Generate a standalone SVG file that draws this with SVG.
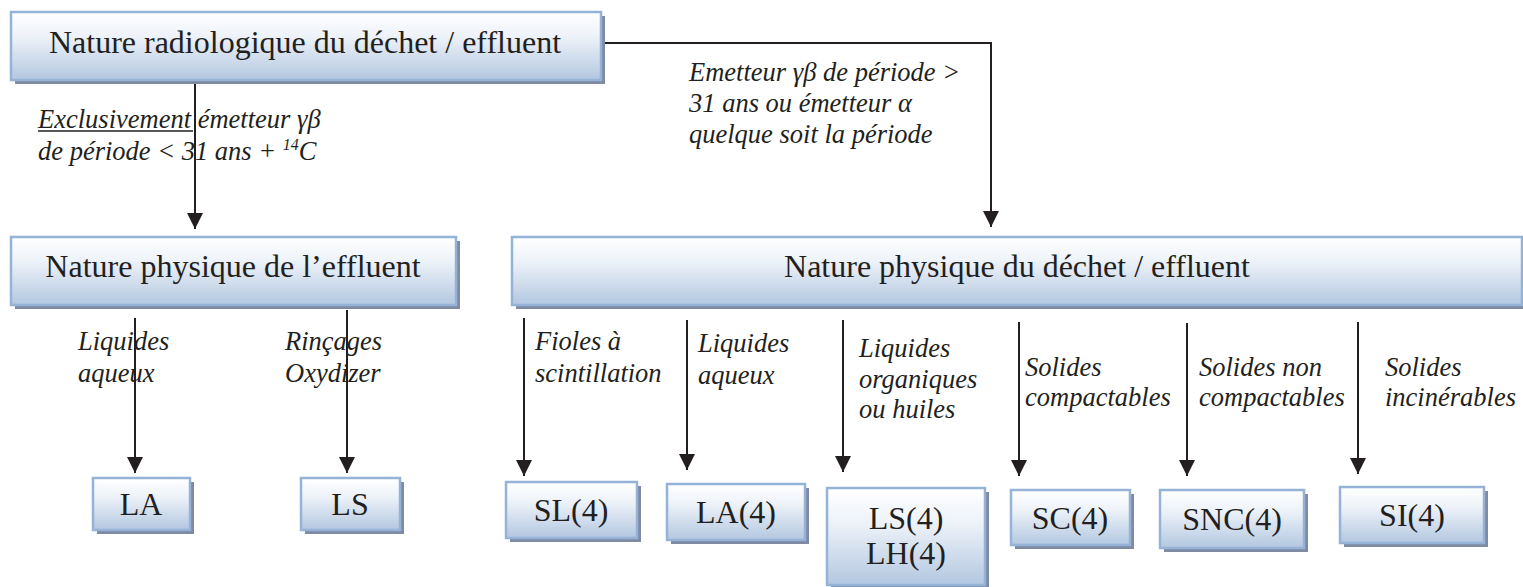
<svg xmlns="http://www.w3.org/2000/svg" width="1523" height="587" viewBox="0 0 1523 587">
<defs>
<linearGradient id="g" x1="0" y1="0" x2="0" y2="1">
<stop offset="0" stop-color="#ffffff"/>
<stop offset="0.35" stop-color="#eef3f9"/>
<stop offset="1" stop-color="#b3c7e0"/>
</linearGradient>
<marker id="ah" markerUnits="userSpaceOnUse" markerWidth="16" markerHeight="18" refX="16" refY="8" orient="auto">
<path d="M0,0 L16,8 L0,16 z" fill="#231f20"/>
</marker>
<style>
.sh{fill:#7f8aa3}
.bx{fill:url(#g);stroke:#95b3d7;stroke-width:2.5}
.t{font-family:"Liberation Serif","Times New Roman",serif;font-size:32px;fill:#231f20;text-anchor:middle}
.l{font-family:"Liberation Serif","Times New Roman",serif;font-size:26.5px;font-style:italic;fill:#231f20}
.c{fill:none;stroke:#231f20;stroke-width:2;marker-end:url(#ah)}
</style>
</defs>
<g id="connectors">
<path class="c" d="M195,80 V229"/>
<path class="c" d="M601,43 H991 V227"/>
<path class="c" d="M135,318 V473"/>
<path class="c" d="M347,310 V473"/>
<path class="c" d="M524,318 V476"/>
<path class="c" d="M687,320 V470"/>
<path class="c" d="M843,320 V472"/>
<path class="c" d="M1019,322 V476"/>
<path class="c" d="M1187,323 V476"/>
<path class="c" d="M1358,322 V474"/>
</g>
<g id="labels">
<text class="l" x="38" y="128">Exclusivement émetteur γβ</text>
<line x1="38" y1="131" x2="193" y2="131" stroke="#231f20" stroke-width="1.5"/>
<text class="l" x="38" y="160">de période &lt; 31 ans + <tspan font-size="16" dy="-10">14</tspan><tspan dy="10">C</tspan></text>
<text class="l" x="689" y="81">Emetteur γβ de période &gt;</text>
<text class="l" x="689" y="112">31 ans ou émetteur α</text>
<text class="l" x="689" y="143">quelque soit la période</text>
<text class="l" x="78" y="350">Liquides</text>
<text class="l" x="78" y="382">aqueux</text>
<text class="l" x="285" y="350">Rinçages</text>
<text class="l" x="285" y="382">Oxydizer</text>
<text class="l" x="535" y="350">Fioles à</text>
<text class="l" x="535" y="382">scintillation</text>
<text class="l" x="698" y="352">Liquides</text>
<text class="l" x="698" y="384">aqueux</text>
<text class="l" x="859" y="357">Liquides</text>
<text class="l" x="859" y="388">organiques</text>
<text class="l" x="859" y="418">ou huiles</text>
<text class="l" x="1025" y="376">Solides</text>
<text class="l" x="1025" y="406">compactables</text>
<text class="l" x="1199" y="376">Solides non</text>
<text class="l" x="1199" y="406">compactables</text>
<text class="l" x="1385" y="376">Solides</text>
<text class="l" x="1385" y="406">incinérables</text>
</g>
<g id="n-radio">
<rect class="sh" x="15" y="16" width="590" height="68"/>
<rect class="bx" x="11" y="12" width="590" height="68"/>
<text class="t" x="305" y="53">Nature radiologique du déchet / effluent</text>
</g>
<g id="n-phys-effluent">
<rect class="sh" x="15" y="241" width="445" height="68"/>
<rect class="bx" x="11" y="237" width="445" height="68"/>
<text class="t" x="233" y="277">Nature physique de l’effluent</text>
</g>
<g id="n-phys-dechet">
<rect class="sh" x="516" y="241" width="1010" height="68"/>
<rect class="bx" x="512" y="237" width="1010" height="68"/>
<text class="t" x="1017" y="277">Nature physique du déchet / effluent</text>
</g>
<g id="n-LA">
<rect class="sh" x="97" y="482" width="97" height="52"/>
<rect class="bx" x="93" y="478" width="97" height="52"/>
<text class="t" x="141" y="515">LA</text>
</g>
<g id="n-LS">
<rect class="sh" x="305" y="482" width="99" height="52"/>
<rect class="bx" x="301" y="478" width="99" height="52"/>
<text class="t" x="350" y="515">LS</text>
</g>
<g id="n-SL4">
<rect class="sh" x="510" y="486" width="131" height="56"/>
<rect class="bx" x="506" y="482" width="131" height="56"/>
<text class="t" x="571" y="521">SL(4)</text>
</g>
<g id="n-LA4">
<rect class="sh" x="671" y="488" width="138" height="56"/>
<rect class="bx" x="667" y="484" width="138" height="56"/>
<text class="t" x="736" y="523">LA(4)</text>
</g>
<g id="n-LSLH4">
<rect class="sh" x="831" y="492" width="158" height="97"/>
<rect class="bx" x="827" y="488" width="158" height="97"/>
<text class="t" x="906" y="529">LS(4)</text>
<text class="t" x="906" y="564">LH(4)</text>
</g>
<g id="n-SC4">
<rect class="sh" x="1015" y="494" width="119" height="55"/>
<rect class="bx" x="1011" y="490" width="119" height="55"/>
<text class="t" x="1070" y="529">SC(4)</text>
</g>
<g id="n-SNC4">
<rect class="sh" x="1164" y="494" width="144" height="58"/>
<rect class="bx" x="1160" y="490" width="144" height="58"/>
<text class="t" x="1232" y="530">SNC(4)</text>
</g>
<g id="n-SI4">
<rect class="sh" x="1344" y="491" width="144" height="56"/>
<rect class="bx" x="1340" y="487" width="144" height="56"/>
<text class="t" x="1412" y="526">SI(4)</text>
</g>
</svg>
